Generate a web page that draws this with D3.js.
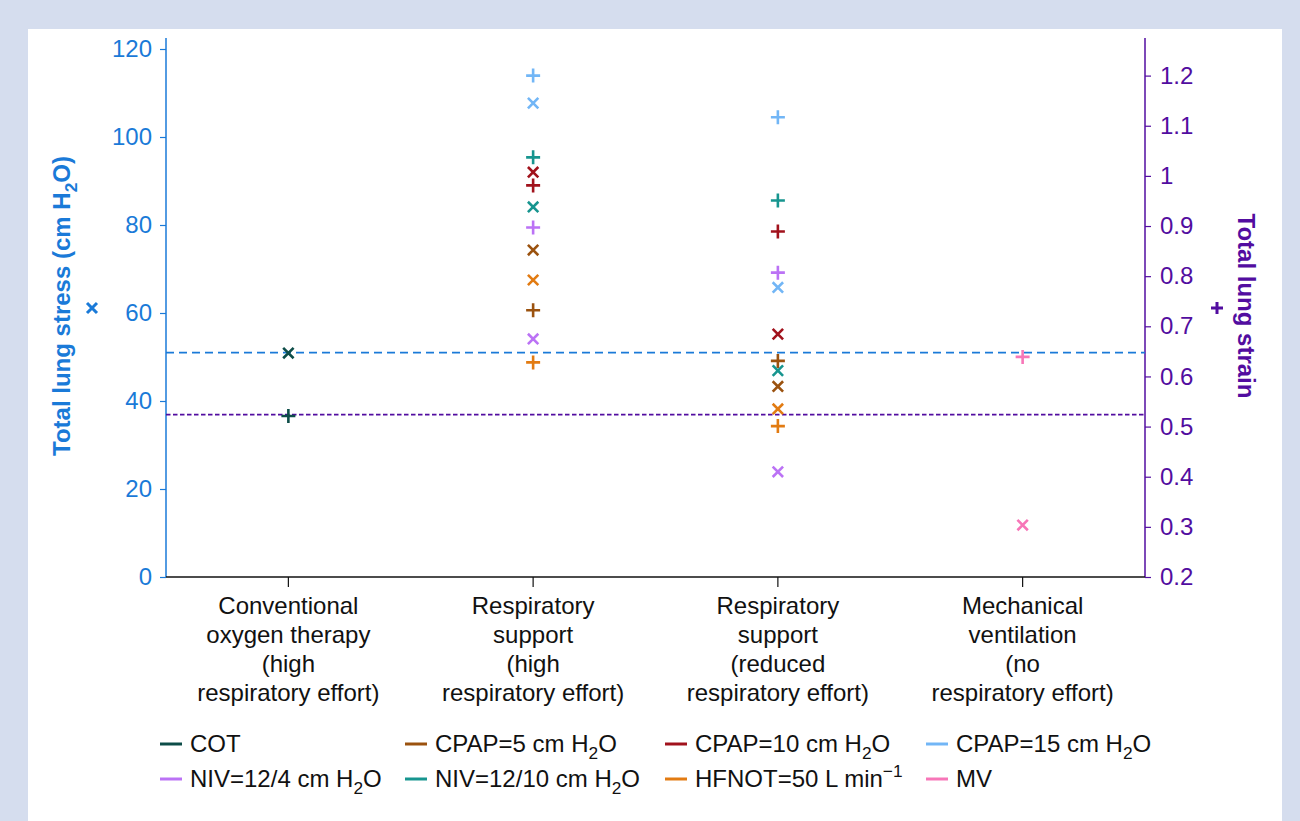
<!DOCTYPE html>
<html>
<head>
<meta charset="utf-8">
<script src="https://cdn.jsdelivr.net/npm/d3@7"></script>
<style>
  body { margin: 0; background: #d5ddee; }
  svg { display: block; font-family: "Liberation Sans", Arial, sans-serif; }
</style>
</head>
<body>
<script>
// Categories along the x axis (one array of lines per category)
const categories = [
  ["Conventional", "oxygen therapy", "(high", "respiratory effort)"],
  ["Respiratory", "support", "(high", "respiratory effort)"],
  ["Respiratory", "support", "(reduced", "respiratory effort)"],
  ["Mechanical", "ventilation", "(no", "respiratory effort)"]
];

// Series names (legend labels, _{} = subscript, ^{} = superscript)
const seriesLabels = [
  "COT", "CPAP=5 cm H_{2}O", "CPAP=10 cm H_{2}O", "CPAP=15 cm H_{2}O",
  "NIV=12/4 cm H_{2}O", "NIV=12/10 cm H_{2}O", "HFNOT=50 L min^{\u22121}", "MV"
];
const seriesColors = [
  "#0d4d48", "#9b520f", "#a1121c", "#72b6f6",
  "#bb72f5", "#17958f", "#e27b12", "#f776b8"
];

// Total lung stress (cm H2O), x markers, per category (null = not measured)
const stress = [
  [50.9, null, null, null],
  [null, 74.3, 43.3, null],
  [null, 92.0, 55.2, null],
  [null, 107.7, 65.8, null],
  [null, 54.1, 23.9, null],
  [null, 84.1, 46.9, null],
  [null, 67.5, 38.2, null],
  [null, null, null, 11.8]
];

// Total lung strain, + markers, per category
const strain = [
  [0.521, null, null, null],
  [null, 0.732, 0.631, null],
  [null, 0.981, 0.889, null],
  [null, 1.2, 1.117, null],
  [null, 0.897, 0.807, null],
  [null, 1.037, 0.951, null],
  [null, 0.628, 0.501, null],
  [null, null, null, 0.639]
];

// Reference lines (COT values)
const stressRef = 51;
const strainRef = 0.524;

const leftTicks = [0, 20, 40, 60, 80, 100, 120];
const rightTicks = [0.2, 0.3, 0.4, 0.5, 0.6, 0.7, 0.8, 0.9, 1, 1.1, 1.2];

const blue = "#1a7ad8";
const purple = "#520da0";
const fontSize = 24;

const W = 1300, H = 821;
const plot = { left: 166, right: 1145, top: 38, bottom: 577 };

const svg = d3.select("body").append("svg")
  .attr("width", W)
  .attr("height", H);

// white panel
svg.append("rect")
  .attr("x", 28).attr("y", 29)
  .attr("width", 1254).attr("height", H - 29 + 10)
  .attr("fill", "#fff");

// Scales
const x = d3.scaleBand()
  .domain(d3.range(categories.length))
  .range([plot.left, plot.right]);

const yLeft = d3.scaleLinear()
  .domain([0, 122.5])
  .range([plot.bottom, plot.top]);

const yRight = d3.scaleLinear()
  .domain([0.2, 1.275])
  .range([plot.bottom, plot.top]);

// helper for text with _{sub} and ^{sup}
function richText(sel, str, size) {
  const parts = str.split(/([_^]\{[^}]*\})/).filter(p => p !== "");
  let shift = 0;
  parts.forEach(p => {
    let txt = p, fs = size, target = 0;
    if (p.startsWith("_{")) { target = size * 0.3; txt = p.slice(2, -1); fs = size * 0.72; }
    else if (p.startsWith("^{")) { target = -size * 0.4; txt = p.slice(2, -1); fs = size * 0.72; }
    const dy = target - shift;
    shift = target;
    sel.append("tspan")
      .attr("dy", dy)
      .attr("font-size", fs)
      .text(txt);
  });
}

// Left axis
const leftAxis = svg.append("g")
  .attr("transform", `translate(${plot.left},0)`)
  .call(d3.axisLeft(yLeft).tickValues(leftTicks).tickSize(6).tickPadding(8).tickFormat(d3.format("d")));
leftAxis.select(".domain").attr("stroke", blue).attr("stroke-width", 1.5)
  .attr("d", `M-0,${plot.top}V${plot.bottom}`);
leftAxis.selectAll(".tick line").attr("stroke", blue).attr("stroke-width", 1.2);
leftAxis.selectAll(".tick text").attr("fill", blue).attr("font-size", fontSize)
  .attr("font-family", "Liberation Sans, Arial, sans-serif");

// Right axis
const rightAxis = svg.append("g")
  .attr("transform", `translate(${plot.right},0)`)
  .call(d3.axisRight(yRight).tickValues(rightTicks).tickSize(6).tickPadding(9).tickFormat(d => String(+d.toFixed(1))));
rightAxis.select(".domain").attr("stroke", purple).attr("stroke-width", 1.5)
  .attr("d", `M0,${plot.top}V${plot.bottom}`);
rightAxis.selectAll(".tick line").attr("stroke", purple).attr("stroke-width", 1.2);
rightAxis.selectAll(".tick text").attr("fill", purple).attr("font-size", fontSize)
  .attr("font-family", "Liberation Sans, Arial, sans-serif");

// Bottom axis
const bottomAxis = svg.append("g")
  .attr("transform", `translate(0,${plot.bottom})`)
  .call(d3.axisBottom(x).tickSize(10).tickFormat(""));
bottomAxis.select(".domain").attr("stroke", "#111").attr("stroke-width", 1.3)
  .attr("d", `M${plot.left},0H${plot.right}`);
bottomAxis.selectAll(".tick line").attr("stroke", "#111").attr("stroke-width", 1.2);

// Category labels
categories.forEach((lines, i) => {
  const t = svg.append("text")
    .attr("text-anchor", "middle")
    .attr("font-size", fontSize)
    .attr("fill", "#111");
  lines.forEach((ln, j) => {
    t.append("tspan")
      .attr("x", x(i) + x.bandwidth() / 2)
      .attr("y", 614 + j * 29)
      .text(ln);
  });
});

// Reference lines
svg.append("line")
  .attr("x1", plot.left).attr("x2", plot.right)
  .attr("y1", yLeft(stressRef)).attr("y2", yLeft(stressRef))
  .attr("stroke", blue).attr("stroke-width", 1.7)
  .attr("stroke-dasharray", "8,5");

svg.append("line")
  .attr("x1", plot.left).attr("x2", plot.right)
  .attr("y1", yRight(strainRef)).attr("y2", yRight(strainRef))
  .attr("stroke", purple).attr("stroke-width", 1.7)
  .attr("stroke-dasharray", "4.5,2.5");

// Marker shapes
const crossPath = r => `M${-r},${-r}L${r},${r}M${-r},${r}L${r},${-r}`;
const plusPath = r => `M${-r},0H${r}M0,${-r}V${r}`;

// Points
const points = [];
seriesLabels.forEach((s, si) => {
  categories.forEach((c, ci) => {
    if (stress[si][ci] != null) points.push({ si, ci, kind: "x", y: yLeft(stress[si][ci]) });
    if (strain[si][ci] != null) points.push({ si, ci, kind: "+", y: yRight(strain[si][ci]) });
  });
});

svg.append("g").selectAll("path")
  .data(points)
  .join("path")
  .attr("transform", d => `translate(${x(d.ci) + x.bandwidth() / 2},${d.y})`)
  .attr("d", d => d.kind === "x" ? crossPath(5.2) : plusPath(7))
  .attr("fill", "none")
  .attr("stroke", d => seriesColors[d.si])
  .attr("stroke-width", 2.6);

// Axis titles
const leftTitle = svg.append("text")
  .attr("transform", "translate(70,306) rotate(-90)")
  .attr("text-anchor", "middle")
  .attr("font-size", fontSize)
  .attr("font-weight", "bold")
  .attr("fill", blue);
richText(leftTitle, "Total lung stress (cm H_{2}O)", fontSize);

svg.append("path")
  .attr("transform", "translate(92,308)")
  .attr("d", crossPath(5))
  .attr("stroke", blue)
  .attr("stroke-width", 3)
  .attr("fill", "none");

svg.append("text")
  .attr("transform", "translate(1238,306) rotate(90)")
  .attr("text-anchor", "middle")
  .attr("font-size", fontSize)
  .attr("font-weight", "bold")
  .attr("fill", purple)
  .text("Total lung strain");

svg.append("path")
  .attr("transform", "translate(1217,308)")
  .attr("d", plusPath(6))
  .attr("stroke", purple)
  .attr("stroke-width", 3)
  .attr("fill", "none");

// Legend
const legendX = [160, 405, 665, 926];
const legendY = [744, 779];
seriesLabels.forEach((lab, i) => {
  const cx = legendX[i % 4], cy = legendY[Math.floor(i / 4)];
  svg.append("line")
    .attr("x1", cx).attr("x2", cx + 22)
    .attr("y1", cy).attr("y2", cy)
    .attr("stroke", seriesColors[i])
    .attr("stroke-width", 3);
  const t = svg.append("text")
    .attr("x", cx + 30)
    .attr("y", cy + 8)
    .attr("font-size", fontSize)
    .attr("fill", "#111");
  richText(t, lab, fontSize);
});
</script>
</body>
</html>
